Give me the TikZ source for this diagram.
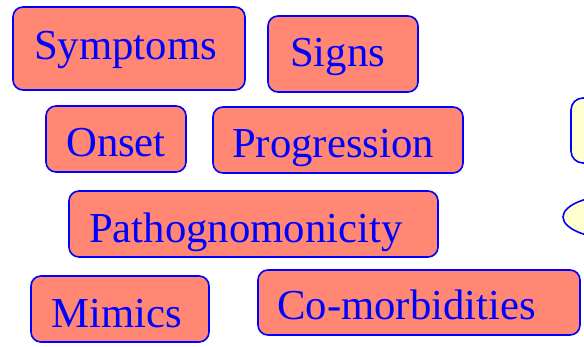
\documentclass[tikz,border=0pt]{standalone}
\usepackage{fontspec}
\setmainfont{Liberation Serif}
\definecolor{boxfill}{RGB}{255,135,115}
\definecolor{boxline}{RGB}{0,0,255}
\definecolor{yfill}{RGB}{255,255,208}
\begin{document}
\begin{tikzpicture}[x=1pt,y=-1pt,
  box/.style={draw=boxline, fill=boxfill, line width=1.6pt, rounded corners=10pt},
  ybox/.style={draw=boxline, fill=yfill, line width=1.6pt, rounded corners=12pt},
  lbl/.style={text=boxline, font=\fontsize{42.7}{48}\selectfont, inner sep=0pt, anchor=base west}]
\useasboundingbox (0,0) rectangle (584,347);
\clip (0,0) rectangle (584,347);
\draw[box] (13,7) rectangle (245,90);
\node[lbl] (sym) at (34,60) {Symptoms};
\draw[box] (268,16) rectangle (418,92);
\node[lbl] (sig) at (290,67) {Signs};
\draw[box] (46,106) rectangle (186,172);
\node[lbl] (ons) at (66,157) {Onset};
\draw[box] (213,107) rectangle (463,173);
\node[lbl] (pro) at (232,158) {Progression};
\draw[box] (69,191) rectangle (438,257);
\node[lbl] (pat) at (89,243) {Pathognomonicity};
\draw[box] (31,276) rectangle (209,342);
\node[lbl] (mim) at (51,328) {Mimics};
\draw[box] (258,270) rectangle (580,335);
\node[lbl] (com) at (277,320) {Co-morbidities};
\draw[ybox] (571,98) rectangle (660,163);
\draw[draw=boxline, fill=yfill, line width=1.6pt] (625,217) ellipse [x radius=62, y radius=23];
\end{tikzpicture}
\end{document}
